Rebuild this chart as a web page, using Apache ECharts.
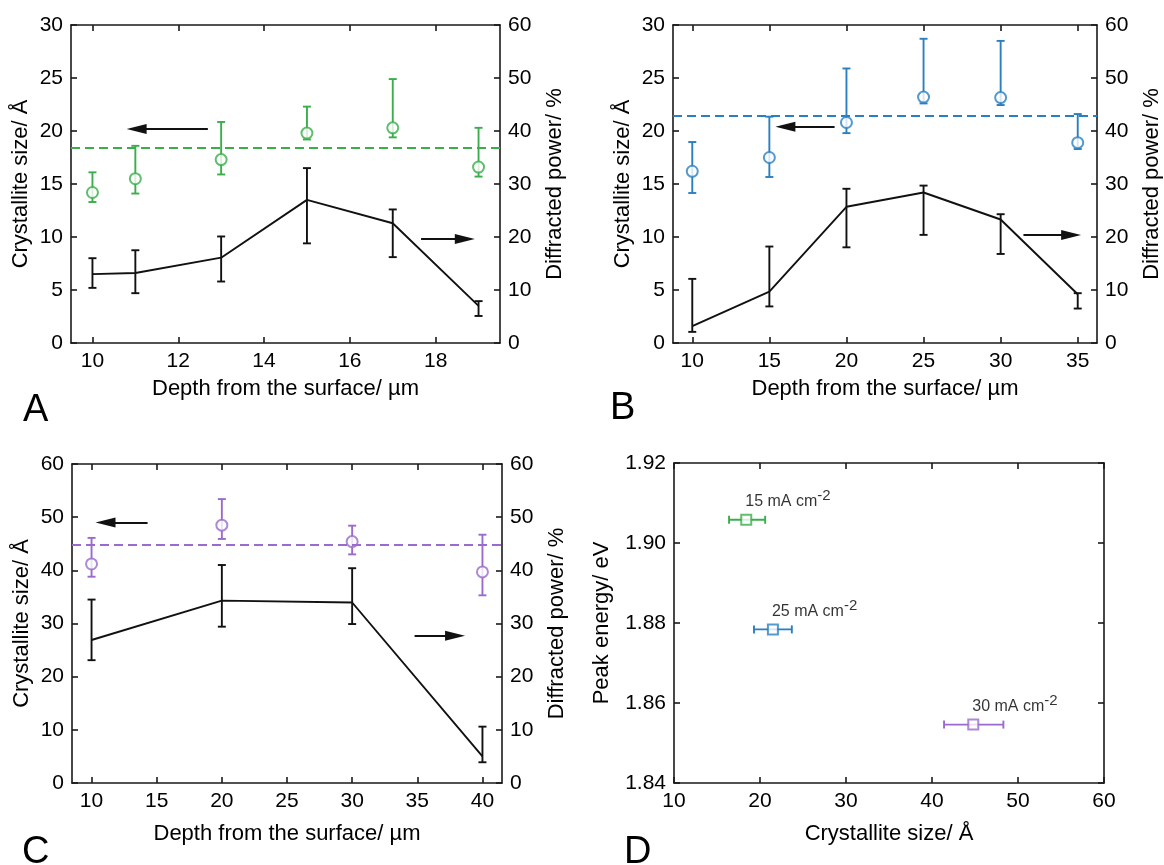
<!DOCTYPE html>
<html><head><meta charset="utf-8">
<script src="https://cdn.jsdelivr.net/npm/echarts@6/dist/echarts.min.js"></script>
<style>html,body{margin:0;padding:0;background:#fff}#c{width:1164px;height:865px}</style>
</head><body><div id="c"></div>
<script>
// ---------- Panel A ----------
const depthA = [10, 11, 13, 15, 17, 19];
const sizeA = [14.2, 15.5, 17.3, 19.8, 20.3, 16.6];
const sizeALo = [13.3, 14.1, 15.9, 19.2, 19.4, 15.7];
const sizeAHi = [16.1, 18.6, 20.85, 22.3, 24.9, 20.3];
const powerA = [13.0, 13.2, 16.1, 27.0, 22.6, 7.0];
const powerALo = [10.4, 9.4, 11.6, 18.8, 16.2, 5.1];
const powerAHi = [16.0, 17.5, 20.1, 33.0, 25.2, 7.9];
const meanA = 18.4;
const arrowLeftA = [[12.69, 20.2], [11.03, 20.2]];
const arrowRightA = [[17.66, 19.6], [18.68, 19.6]];
const ticksXA = [10, 12, 14, 16, 18];
// ---------- Panel B ----------
const depthB = [10, 15, 20, 25, 30, 35];
const sizeB = [16.2, 17.5, 20.8, 23.2, 23.15, 18.9];
const sizeBLo = [14.15, 15.66, 19.8, 22.6, 22.45, 18.3];
const sizeBHi = [18.96, 21.35, 25.9, 28.7, 28.5, 21.6];
const powerB = [3.2, 9.7, 25.7, 28.4, 23.3, 9.2];
const powerBLo = [2.1, 6.9, 18.05, 20.4, 16.8, 6.5];
const powerBHi = [12.1, 18.2, 29.1, 29.7, 24.3, 9.4];
const meanB = 21.4;
const arrowLeftB = [[19.23, 20.4], [16.04, 20.4]];
const arrowRightB = [[31.48, 20.4], [34.57, 20.4]];
const ticksXB = [10, 15, 20, 25, 30, 35];
// ---------- Panel C ----------
const depthC = [10, 20, 30, 40];
const sizeC = [41.2, 48.5, 45.4, 39.7];
const sizeCLo = [38.8, 45.9, 43.0, 35.3];
const sizeCHi = [46.1, 53.4, 48.4, 46.7];
const powerC = [26.9, 34.3, 33.95, 5.0];
const powerCLo = [23.1, 29.4, 29.9, 3.9];
const powerCHi = [34.5, 41.0, 40.4, 10.6];
const meanC = 44.9;
const arrowLeftC = [[14.3, 49.0], [11.07, 49.0]];
const arrowRightC = [[34.79, 27.7], [37.9, 27.7]];
const ticksXC = [10, 15, 20, 25, 30, 35, 40];
// ---------- Panel D ----------
const currentD = [15, 25, 30];
const sizeD = [18.4, 21.5, 44.8];
const sizeDLo = [16.4, 19.3, 41.4];
const sizeDHi = [20.6, 23.7, 48.3];
const energyD = [1.9058, 1.8784, 1.8546];

const GREEN = '#3aae4b', BLUE = '#2a7fc0', PURPLE = '#9a6bcc', BLACK = '#111';
const colorsD = [GREEN, BLUE, PURPLE];
const FONT = '"Liberation Sans", Arial, sans-serif';
const AX = {color: '#1a1a1a', width: 1.6};
const LW = 1.9;

function xAxes(g, min, max, ticks, name, nameGap) {
  return [{
    gridIndex: g, type: 'value', min, max, position: 'bottom',
    axisLine: {show: true, onZero: false, lineStyle: AX},
    axisTick: {show: true, inside: true, length: 6, customValues: ticks, lineStyle: AX},
    axisLabel: {customValues: ticks, fontSize: 21, color: '#000', margin: 8, fontFamily: FONT},
    splitLine: {show: false},
    name, nameLocation: 'middle', nameGap,
    nameTextStyle: {fontSize: 22, color: '#000', fontFamily: FONT}
  }, {
    gridIndex: g, type: 'value', min, max, position: 'top',
    axisLine: {show: true, onZero: false, lineStyle: AX},
    axisTick: {show: true, inside: true, length: 6, customValues: ticks, lineStyle: AX},
    axisLabel: {show: false}, splitLine: {show: false}
  }];
}
function yAxis(g, min, max, interval, pos, name, nameGap, showLabel, fmt) {
  return {
    gridIndex: g, type: 'value', min, max, interval, position: pos,
    axisLine: {show: true, onZero: false, lineStyle: AX},
    axisTick: {show: true, inside: true, length: 6, lineStyle: AX},
    axisLabel: {show: showLabel, fontSize: 21, color: '#000', margin: 8, fontFamily: FONT,
      showMinLabel: true, showMaxLabel: true, formatter: fmt},
    splitLine: {show: false},
    name, nameLocation: 'middle', nameGap, nameRotate: 90,
    nameTextStyle: {fontSize: 22, color: '#000', fontFamily: FONT}
  };
}

function vErr(xs, lo, hi, xi, yi, color) {
  return {
    type: 'custom', xAxisIndex: xi, yAxisIndex: yi, silent: true, z: 3,
    data: xs.map((x, i) => [x, lo[i], hi[i]]),
    renderItem: (p, api) => {
      const a = api.coord([api.value(0), api.value(1)]);
      const b = api.coord([api.value(0), api.value(2)]);
      const w = 4;
      const st = {stroke: color, lineWidth: LW};
      return {type: 'group', children: [
        {type: 'line', shape: {x1: a[0], y1: a[1], x2: b[0], y2: b[1]}, style: st},
        {type: 'line', shape: {x1: a[0] - w, y1: a[1], x2: a[0] + w, y2: a[1]}, style: st},
        {type: 'line', shape: {x1: b[0] - w, y1: b[1], x2: b[0] + w, y2: b[1]}, style: st}
      ]};
    }
  };
}
function arrowLine(arr) {
  return [{coord: arr[0], symbol: 'none'}, {coord: arr[1], symbol: 'triangle', symbolSize: [10, 20]}];
}
function panelSeries(g, xs, size, sLo, sHi, pow, pLo, pHi, mean, aL, aR, color) {
  const xi = g * 2, yl = g * 2, yr = g * 2 + 1;
  return [
    {type: 'line', xAxisIndex: xi, yAxisIndex: yr, data: xs.map((x, i) => [x, pow[i]]),
     symbol: 'none', lineStyle: {color: BLACK, width: LW}, z: 2, silent: true,
     markLine: {silent: true, animation: false, label: {show: false},
       lineStyle: {color: BLACK, width: LW, type: 'solid'},
       data: [arrowLine(aR)]}},
    vErr(xs, pLo, pHi, xi, yr, BLACK),
    vErr(xs, sLo, sHi, xi, yl, color),
    {type: 'scatter', xAxisIndex: xi, yAxisIndex: yl, data: xs.map((x, i) => [x, size[i]]),
     symbol: 'circle', symbolSize: 11, z: 4, silent: true,
     itemStyle: {color: '#fff', borderColor: color, borderWidth: 2},
     markLine: {silent: true, animation: false, label: {show: false}, symbol: ['none', 'none'],
       data: [
         {yAxis: mean, lineStyle: {color: color, width: LW, type: [9, 5]}},
         arrowLine(aL).map(o => Object.assign({lineStyle: {color: BLACK, width: LW, type: 'solid'}}, o))
       ]}}
  ];
}

const chart = echarts.init(document.getElementById('c'), null, {renderer: 'canvas'});
const option = {
  animation: false,
  textStyle: {fontFamily: FONT},
  grid: [
    {left: 71, top: 25, width: 429, height: 318},
    {left: 673, top: 25, width: 430, height: 318},
    {left: 72, top: 464, width: 430, height: 319},
    {left: 674, top: 463, width: 430, height: 320}
  ],
  xAxis: [
    ...xAxes(0, 9.5, 19.5, ticksXA, 'Depth from the surface/ µm', 35),
    ...xAxes(1, 8.75, 36.25, ticksXB, 'Depth from the surface/ µm', 35),
    ...xAxes(2, 8.5, 41.5, ticksXC, 'Depth from the surface/ µm', 40),
    ...xAxes(3, 10, 60, [10, 20, 30, 40, 50, 60], 'Crystallite size/ Å', 40)
  ],
  yAxis: [
    yAxis(0, 0, 30, 5, 'left', 'Crystallite size/ Å', 39, true),
    yAxis(0, 0, 60, 10, 'right', 'Diffracted power/ %', 44, true),
    yAxis(1, 0, 30, 5, 'left', 'Crystallite size/ Å', 39, true),
    yAxis(1, 0, 60, 10, 'right', 'Diffracted power/ %', 44, true),
    yAxis(2, 0, 60, 10, 'left', 'Crystallite size/ Å', 39, true),
    yAxis(2, 0, 60, 10, 'right', 'Diffracted power/ %', 44, true),
    yAxis(3, 1.84, 1.92, 0.02, 'left', 'Peak energy/ eV', 61, true, v => v.toFixed(2)),
    yAxis(3, 1.84, 1.92, 0.02, 'right', '', 10, false)
  ],
  series: [
    ...panelSeries(0, depthA, sizeA, sizeALo, sizeAHi, powerA, powerALo, powerAHi, meanA, arrowLeftA, arrowRightA, GREEN),
    ...panelSeries(1, depthB, sizeB, sizeBLo, sizeBHi, powerB, powerBLo, powerBHi, meanB, arrowLeftB, arrowRightB, BLUE),
    ...panelSeries(2, depthC, sizeC, sizeCLo, sizeCHi, powerC, powerCLo, powerCHi, meanC, arrowLeftC, arrowRightC, PURPLE),
    {
      type: 'custom', xAxisIndex: 6, yAxisIndex: 6, silent: true, z: 3,
      data: sizeD.map((x, i) => [x, energyD[i], sizeDLo[i], sizeDHi[i]]),
      renderItem: (p, api) => {
        const a = api.coord([api.value(2), api.value(1)]);
        const b = api.coord([api.value(3), api.value(1)]);
        const h = 4;
        const st = {stroke: colorsD[p.dataIndex], lineWidth: LW};
        return {type: 'group', children: [
          {type: 'line', shape: {x1: a[0], y1: a[1], x2: b[0], y2: b[1]}, style: st},
          {type: 'line', shape: {x1: a[0], y1: a[1] - h, x2: a[0], y2: a[1] + h}, style: st},
          {type: 'line', shape: {x1: b[0], y1: b[1] - h, x2: b[0], y2: b[1] + h}, style: st}
        ]};
      }
    },
    {
      type: 'scatter', xAxisIndex: 6, yAxisIndex: 6, silent: true, z: 4,
      symbol: 'rect', symbolSize: 10,
      data: sizeD.map((x, i) => ({value: [x, energyD[i]],
        itemStyle: {color: '#fff', borderColor: colorsD[i], borderWidth: 2}})),
      label: {
        show: true, position: [5, 1], align: 'left', verticalAlign: 'bottom',
        formatter: p => '{a|' + currentD[p.dataIndex] + ' mA cm}{s|-2}',
        rich: {
          a: {fontSize: 16, lineHeight: 26, color: '#000', fontFamily: FONT},
          s: {fontSize: 15, lineHeight: 15, verticalAlign: 'top', color: '#000', fontFamily: FONT}
        }
      }
    }
  ],
  graphic: [
    {type: 'text', left: 23, top: 392, style: {text: 'A', fontSize: 38, fill: '#000', fontFamily: FONT}},
    {type: 'text', left: 610, top: 390, style: {text: 'B', fontSize: 38, fill: '#000', fontFamily: FONT}},
    {type: 'text', left: 22, top: 834, style: {text: 'C', fontSize: 38, fill: '#000', fontFamily: FONT}},
    {type: 'text', left: 624, top: 834, style: {text: 'D', fontSize: 38, fill: '#000', fontFamily: FONT}}
  ]
};
chart.setOption(option);
</script></body></html>
